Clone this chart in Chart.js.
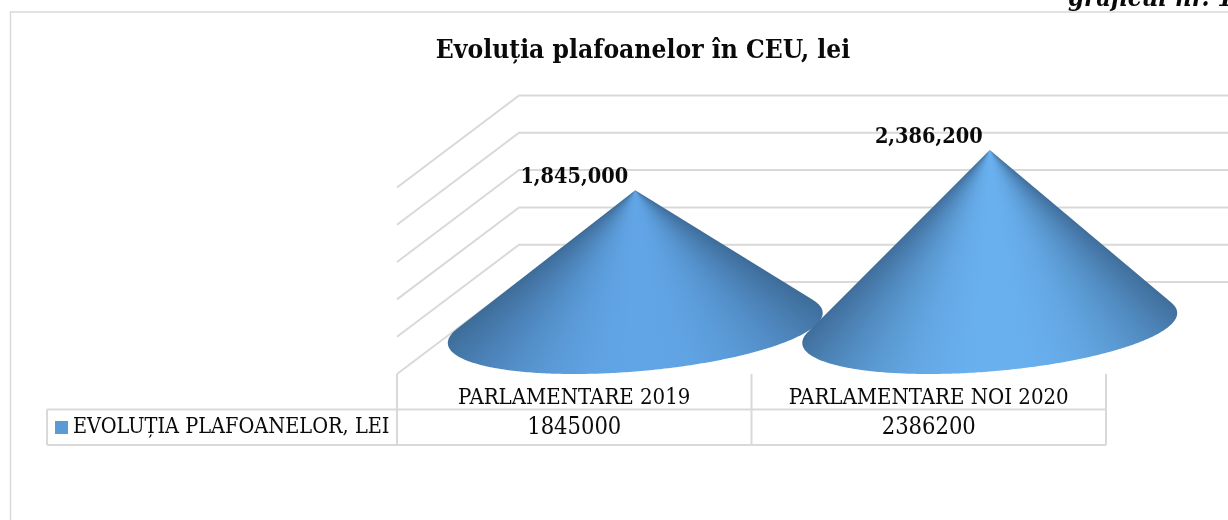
<!DOCTYPE html>
<html><head><meta charset="utf-8">
<style>html,body{margin:0;padding:0;background:#fff;overflow:hidden}canvas{display:block}</style>
<script src="https://cdn.jsdelivr.net/npm/chart.js@4"></script>
</head><body><canvas id="c" width="1228" height="520"></canvas>
<script>
const categories = ['PARLAMENTARE 2019', 'PARLAMENTARE NOI 2020'];
const plafoane = [1845000, 2386200];
const seriesName = 'EVOLUȚIA PLAFOANELOR, LEI';
const chartTitle = 'Evoluția plafoanelor în CEU, lei';
const cornerNote = 'graficul nr. 1';
const yTicks = [0, 500000, 1000000, 1500000, 2000000, 2500000];

const SERIF = '"DejaVu Serif Condensed","DejaVu Serif",serif';
const GRID = '#d9d9d9';
const INK = '#0a0a0a';
const DX = 61, DY = 46;

function mix(a, b, k) {
  return 'rgb(' + a.map((v, i) => Math.round(v + (b[i] - v) * k)).join(',') + ')';
}

const scene = {
  id: 'scene',
  beforeDatasetsDraw(chart) {
    const { ctx, scales: { x, y } } = chart;
    ctx.save();
    ctx.strokeStyle = GRID; ctx.lineWidth = 1.5;
    ctx.beginPath(); ctx.moveTo(10.5, 520); ctx.lineTo(10.5, 12); ctx.lineTo(1228, 12); ctx.stroke();
    ctx.fillStyle = INK; ctx.font = 'italic bold 25.5px ' + SERIF;
    ctx.textAlign = 'left'; ctx.textBaseline = 'alphabetic';
    ctx.fillText(cornerNote, 1068, 6);
    ctx.strokeStyle = GRID; ctx.lineWidth = 2;
    yTicks.forEach(v => {
      const py = y.getPixelForValue(v);
      ctx.beginPath();
      ctx.moveTo(x.left - DX, py + DY);
      ctx.lineTo(x.left + DX, py - DY);
      ctx.lineTo(x.right + DX, py - DY);
      ctx.stroke();
    });
    const y0 = y.getPixelForValue(0);
    const tTop = y0 + DY, tMid = tTop + 35.5, tBot = tMid + 35.5;
    const L = x.left - DX, C = (x.left + x.right) / 2 - DX, R = x.right - DX, K = 47;
    ctx.lineWidth = 2;
    ctx.beginPath();
    [L, C, R].forEach(px => { ctx.moveTo(px, tTop); ctx.lineTo(px, tBot); });
    ctx.moveTo(K, tMid); ctx.lineTo(R, tMid);
    ctx.moveTo(K, tBot); ctx.lineTo(R, tBot);
    ctx.moveTo(K, tMid); ctx.lineTo(K, tBot);
    ctx.stroke();
    ctx.fillStyle = '#5b9bd5';
    ctx.fillRect(55, tMid + 11.5, 13, 13);
    ctx.fillStyle = INK; ctx.font = '21.5px ' + SERIF;
    ctx.textAlign = 'left'; ctx.textBaseline = 'middle';
    ctx.fillText(seriesName, 73, tMid + 18);
    ctx.textAlign = 'center'; ctx.font = '23.5px ' + SERIF;
    plafoane.forEach((v, i) => ctx.fillText(String(v), x.getPixelForValue(i) - DX, tMid + 18));
    ctx.restore();
  },
  afterDatasetsDraw(chart) {
    const { ctx } = chart;
    const y = chart.scales.y, y0 = y.getPixelForValue(0);
    chart.getDatasetMeta(0).data.forEach((bar, i) => {
      const cx = bar.x, ay = bar.y, h = y0 - ay, Rx = bar.width / 2;
      const pt = t => [cx + Rx * Math.cos(t) + DX * Math.sin(t), y0 - DY * Math.sin(t)];
      const qs = h / DY, qc = -DX * qs / Rx;
      const base = Math.atan2(qs, qc), d = Math.acos(1 / Math.hypot(qs, qc));
      const lo = base + d, hi = base - d + 2 * Math.PI;
      const light = i === 0 ? [97, 165, 230] : [105, 176, 239];
      const dark = [58, 102, 145];
      const pL = pt(lo), pR = pt(hi);
      const aL = Math.atan2(pL[1] - ay, pL[0] - cx), aR = Math.atan2(pR[1] - ay, pR[0] - cx);
      const margin = 0.04, start = aR - margin, span = aL - aR + 2 * margin;
      const g = ctx.createConicGradient(start, cx, ay);
      const stops = 24;
      for (let j = 0; j <= stops; j++) {
        const f = j / stops;
        const u = Math.abs(2 * f - 1);
        g.addColorStop(f * span / (2 * Math.PI), mix(light, dark, Math.pow(u, 2.4)));
      }
      g.addColorStop(Math.min(1, span / (2 * Math.PI) + 0.001), mix(light, dark, 1));
      ctx.save();
      ctx.fillStyle = g;
      ctx.beginPath(); ctx.moveTo(cx, ay);
      const N = 240;
      for (let j = 0; j <= N; j++) { const p = pt(lo + (hi - lo) * j / N); ctx.lineTo(p[0], p[1]); }
      ctx.closePath(); ctx.fill();
      ctx.restore();
      ctx.save();
      ctx.fillStyle = INK; ctx.font = 'bold 21.5px ' + SERIF;
      ctx.textAlign = 'center'; ctx.textBaseline = 'middle';
      ctx.fillText(plafoane[i].toLocaleString('en-US'), cx - DX, ay - 13);
      ctx.restore();
    });
  }
};

new Chart(document.getElementById('c'), {
  type: 'bar',
  data: {
    labels: categories,
    datasets: [{
      label: seriesName, data: plafoane,
      backgroundColor: 'rgba(0,0,0,0)', borderWidth: 0,
      barPercentage: 1, categoryPercentage: 1
    }]
  },
  options: {
    responsive: false, animation: false, devicePixelRatio: 1,
    layout: { padding: { left: 119, right: 61, top: 0, bottom: 112 } },
    scales: {
      x: {
        grid: { display: false }, border: { display: false },
        afterFit(s) { s.height = 80; },
        ticks: { autoSkip: false, maxRotation: 0, minRotation: 0, labelOffset: -61, padding: 49,
                 color: INK, font: { family: SERIF, size: 22 } }
      },
      y: {
        min: 0, max: 2500000,
        grid: { display: false }, border: { display: false },
        afterFit(s) { s.width = 339; },
        ticks: { display: false, stepSize: 500000 }
      }
    },
    plugins: {
      legend: { display: false }, tooltip: { enabled: false },
      title: { display: true, text: chartTitle, color: INK, align: 'center',
               font: { family: SERIF, size: 26.2, weight: 'bold' },
               padding: { top: 35, bottom: 75 } }
    }
  },
  plugins: [scene]
});
</script>
</body></html>
